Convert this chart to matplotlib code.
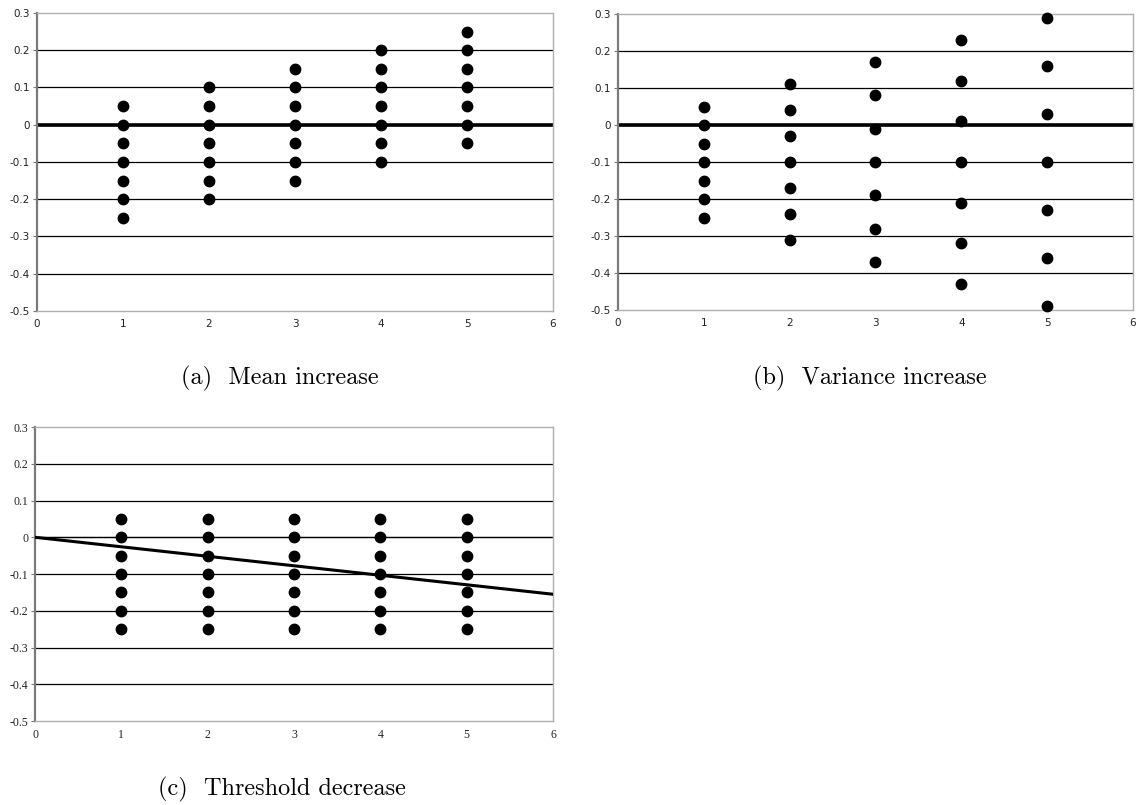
import matplotlib.pyplot as plt

# step number on the x axis
steps = [1, 2, 3, 4, 5]

# (a) mean increase: each column shifted up by 0.05
mean_vals = [
    [0.05, 0.0, -0.05, -0.10, -0.15, -0.20, -0.25],
    [0.10, 0.05, 0.0, -0.05, -0.10, -0.15, -0.20],
    [0.15, 0.10, 0.05, 0.0, -0.05, -0.10, -0.15],
    [0.20, 0.15, 0.10, 0.05, 0.0, -0.05, -0.10],
    [0.25, 0.20, 0.15, 0.10, 0.05, 0.0, -0.05],
]

# (b) variance increase: spread widens around -0.1
var_vals = [
    [0.05, 0.0, -0.05, -0.10, -0.15, -0.20, -0.25],
    [0.11, 0.04, -0.03, -0.10, -0.17, -0.24, -0.31],
    [0.17, 0.08, -0.01, -0.10, -0.19, -0.28, -0.37],
    [0.23, 0.12, 0.01, -0.10, -0.21, -0.32, -0.43],
    [0.29, 0.16, 0.03, -0.10, -0.23, -0.36, -0.49],
]

# (c) threshold decrease: fixed points, sloped threshold line
thr_vals = [
    [0.05, 0.0, -0.05, -0.10, -0.15, -0.20, -0.25],
] * 5
thr_line_x = [0, 6]
thr_line_y = [0.0, -0.155]

yticks = [0.3, 0.2, 0.1, 0, -0.1, -0.2, -0.3, -0.4, -0.5]
ytick_labels = ['0.3', '0.2', '0.1', '0', '-0.1', '-0.2', '-0.3', '-0.4', '-0.5']
xticks = [0, 1, 2, 3, 4, 5, 6]


def setup_axes(ax, tick_font, tick_size):
    ax.set_xlim(0, 6)
    ax.set_ylim(-0.5, 0.3)
    ax.set_xticks(xticks)
    ax.set_xticklabels([str(t) for t in xticks], family=tick_font,
                       fontsize=tick_size, color='#222222')
    ax.set_yticks(yticks)
    ax.set_yticklabels(ytick_labels, family=tick_font, fontsize=tick_size,
                       color='#222222')
    for y in yticks[1:-1]:
        ax.axhline(y, color='black', lw=0.9, zorder=1)
    ax.spines['left'].set_color('#7a7a7a')
    ax.spines['left'].set_linewidth(1.6)
    for s in ['top', 'right', 'bottom']:
        ax.spines[s].set_color('#b0b0b0')
        ax.spines[s].set_linewidth(1.0)
    ax.tick_params(axis='y', length=3, width=0.8, color='#7a7a7a', pad=2)
    ax.tick_params(axis='x', length=0, pad=6)


def draw_points(ax, cols):
    for x, col in zip(steps, cols):
        ax.plot([x] * len(col), col, 'o', color='black', ms=7.5, zorder=3,
                clip_on=False)


fig = plt.figure(figsize=(11.41, 8.05), dpi=100)

ax_a = fig.add_axes([0.0324, 0.6137, 0.4523, 0.3702])
setup_axes(ax_a, 'DejaVu Sans', 7.5)
ax_a.axhline(0, color='black', lw=2.6, zorder=2)
draw_points(ax_a, mean_vals)

ax_b = fig.add_axes([0.5416, 0.6149, 0.4514, 0.3677])
setup_axes(ax_b, 'DejaVu Sans', 7.5)
ax_b.axhline(0, color='black', lw=2.6, zorder=2)
draw_points(ax_b, var_vals)

ax_c = fig.add_axes([0.0307, 0.1043, 0.4540, 0.3652])
setup_axes(ax_c, 'Liberation Serif', 8.5)
ax_c.axhline(0, color='black', lw=0.9, zorder=1)
draw_points(ax_c, thr_vals)
ax_c.plot(thr_line_x, thr_line_y, color='black', lw=2.2, zorder=4)

cap = dict(family='cmr10', fontsize=17.5, ha='center', va='center')
fig.text(280 / 1141, 1 - 378 / 805, '(a)  Mean increase', **cap)
fig.text(870 / 1141, 1 - 378 / 805, '(b)  Variance increase', **cap)
fig.text(282 / 1141, 1 - 789 / 805, '(c)  Threshold decrease', **cap)

fig.savefig('out.png', dpi=100)
